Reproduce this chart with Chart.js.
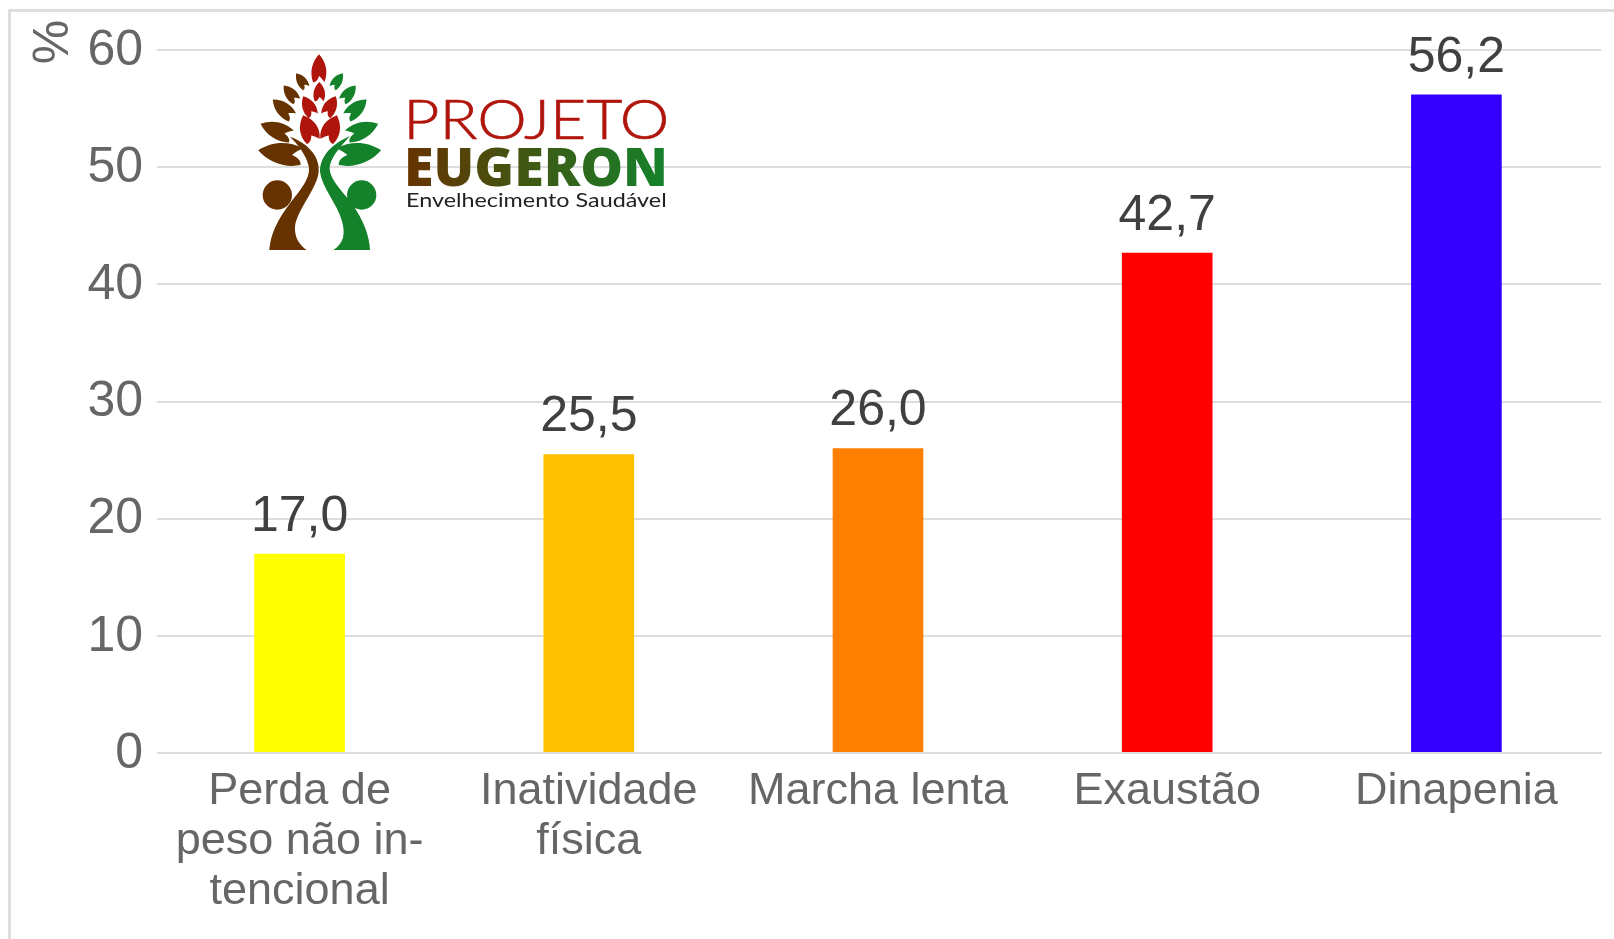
<!DOCTYPE html>
<html lang="pt">
<head>
<meta charset="utf-8">
<title>Projeto Eugeron</title>
<style>
html,body{margin:0;padding:0;background:#fff;overflow:hidden}
#wrap{position:relative;width:1614px;height:939px;background:#fff;filter:blur(.45px)}
#wrap:before{content:"";position:absolute;left:8px;top:9px;right:0;bottom:0;border-left:3px solid #dddddd;border-top:3px solid #dddddd}
canvas{position:absolute;left:0;top:0}
#logo{position:absolute;left:240px;top:40px;width:440px;height:220px}
</style>
<script src="https://cdn.jsdelivr.net/npm/chart.js@4"></script>
</head>
<body>
<div id="wrap">
<canvas id="c" width="1614" height="939"></canvas>
<svg id="logo" viewBox="0 0 1320 660" xmlns="http://www.w3.org/2000/svg">
  <defs>
    <linearGradient id="g" gradientUnits="userSpaceOnUse" x1="502" y1="0" x2="1275" y2="0">
      <stop offset="0" stop-color="#663300"/><stop offset="1" stop-color="#14822a"/>
    </linearGradient>
    <path id="leaf" d="M0,-1 C.8,-.45 1.05,.3 .6,1 C.42,.8 .2,.66 0,.55 C-.1,.78 -.3,1 -.66,1 C-1.05,.3 -.8,-.45 0,-1Z"/>
  </defs>
  <g id="leaves"></g>
  <path fill="#663300" d="M150,290 C205,310 240,350 236,395 C232,445 170,510 165,560 C163,595 180,615 200,630 L88,630 C92,590 105,550 150,490 C185,445 215,410 205,375 C198,345 175,315 150,290Z"/>
  <circle cx="112" cy="465" r="44" fill="#663300"/>
  <path fill="#14822a" d="M330,288 C280,310 240,345 240,395 C245,440 290,490 305,540 C318,585 310,610 280,630 L390,630 C388,585 370,540 335,490 C300,445 262,410 270,375 C278,345 305,315 330,288Z"/>
  <circle cx="365" cy="465" r="44" fill="#14822a"/>
  <text x="490" y="297" font-family="Lato, 'Open Sans', sans-serif" font-weight="300" font-size="166" fill="#b0150c" stroke="#b0150c" stroke-width="2" textLength="798" lengthAdjust="spacingAndGlyphs">PROJETO</text>
  <text x="492" y="437" font-family="'Open Sans', sans-serif" font-weight="800" font-size="160" fill="url(#g)" textLength="792" lengthAdjust="spacingAndGlyphs">EUGERON</text>
  <text x="498" y="500" font-family="Lato, 'Open Sans', sans-serif" font-weight="400" font-size="58" fill="#222" textLength="782" lengthAdjust="spacingAndGlyphs">Envelhecimento Saudável</text>
</svg>
</div>
<script>
const categories = [["Perda de", "peso não in-", "tencional"], ["Inatividade", "física"], "Marcha lenta", "Exaustão", "Dinapenia"];
const values = [17.0, 25.5, 26.0, 42.7, 56.2];
const barColors = ["#ffff00", "#ffc000", "#ff8000", "#ff0000", "#3300ff"];
const axisTitle = "%";

// Logo leaves (decoration, not data): [cx, cy, halfLength, halfWidth, angle, colour]
const RED = "#b0150c", BROWN = "#663300", GREEN = "#14822a";
const leaves = [
  [237,85,42,27,0,RED],[238,155,29,21,0,RED],[205,198,33,24,-28,RED],[272,198,33,24,28,RED],
  [205,265,42,33,-22,RED],[275,265,42,33,22,RED],
  [184,122,27,18,-35,BROWN],[151,160,31,21,-40,BROWN],[128,205,40,26,-48,BROWN],[108,270,50,31,-68,BROWN],[120,340,66,40,-82,BROWN],
  [293,122,27,18,35,GREEN],[327,160,31,21,40,GREEN],[350,205,40,26,48,GREEN],[368,270,50,31,68,GREEN],[358,340,66,40,82,GREEN]
];
const NS = "http://www.w3.org/2000/svg";
const lg = document.getElementById("leaves");
leaves.forEach(([x,y,h,w,a,col]) => {
  const u = document.createElementNS(NS, "use");
  u.setAttribute("href", "#leaf");
  u.setAttribute("fill", col);
  const flip = a > 0 ? -1 : 1;
  u.setAttribute("transform", `translate(${x},${y}) rotate(${a}) scale(${flip*w},${h})`);
  lg.appendChild(u);
});

const FONT = "'Liberation Sans', Arial, sans-serif";

const gridStart = {
  id: "gridStart",
  beforeDatasetsDraw(chart) {
    chart.ctx.clearRect(150, 0, 6.5, 900);
  }
};

const valueLabels = {
  id: "valueLabels",
  afterDatasetsDraw(chart) {
    const { ctx } = chart;
    const meta = chart.getDatasetMeta(0);
    ctx.save();
    ctx.font = "50px " + FONT;
    ctx.fillStyle = "#404040";
    ctx.textAlign = "center";
    ctx.textBaseline = "alphabetic";
    meta.data.forEach((el, i) => {
      ctx.fillText(values[i].toFixed(1).replace(".", ","), el.x, el.y - 23);
    });
    ctx.restore();
  }
};

const yTitle = {
  id: "yTitle",
  afterDraw(chart) {
    const { ctx } = chart;
    ctx.save();
    ctx.translate(68, 42);
    ctx.rotate(-Math.PI / 2);
    ctx.font = "50px " + FONT;
    ctx.fillStyle = "#666666";
    ctx.textAlign = "center";
    ctx.textBaseline = "alphabetic";
    ctx.fillText(axisTitle, 0, 0);
    ctx.restore();
  }
};

new Chart(document.getElementById("c"), {
  type: "bar",
  data: {
    labels: categories,
    datasets: [{ data: values, backgroundColor: barColors, borderWidth: 0, barPercentage: 0.3135, categoryPercentage: 1 }]
  },
  options: {
    responsive: false,
    animation: false,
    events: [],
    layout: { padding: { top: 50, right: 13, left: 0, bottom: 0 } },
    plugins: { legend: { display: false }, tooltip: { enabled: false }, title: { display: false } },
    scales: {
      x: {
        afterFit(s) { s.height = 186; },
        grid: { display: false, drawTicks: false },
        border: { display: true, color: "#dddddd", width: 2 },
        ticks: { color: "#666666", font: { family: FONT, size: 45, lineHeight: 1.11 }, maxRotation: 0, minRotation: 0, autoSkip: false, padding: 14 }
      },
      y: {
        min: 0, max: 60,
        afterFit(s) { s.width = 155; },
        grid: { color: "#dddddd", lineWidth: 2, drawTicks: false },
        border: { display: false },
        ticks: { stepSize: 10, color: "#666666", font: { family: FONT, size: 50 }, padding: 12, labelOffset: 1 }
      }
    }
  },
  plugins: [gridStart, valueLabels, yTitle]
});
</script>
</body>
</html>
